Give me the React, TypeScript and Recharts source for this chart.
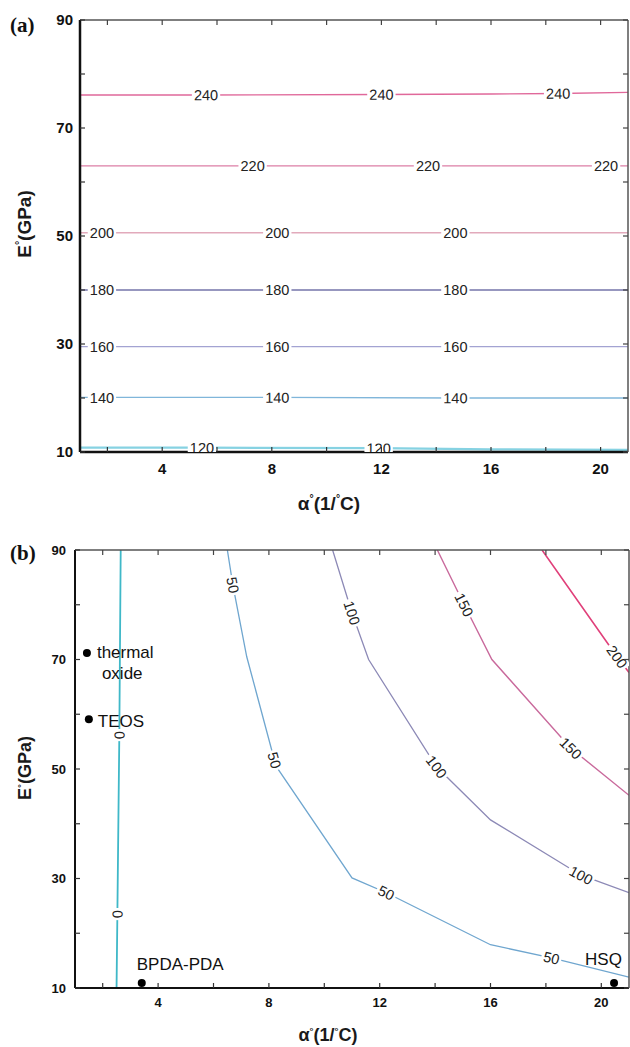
import React from "react";
import { ComposedChart, Line, Scatter, XAxis, YAxis, Label } from "recharts";

type Pt = [number, number];

const FONT = "'Liberation Sans', Arial, Helvetica, sans-serif";

// axis ticks (alpha in 1/C, E in GPa)
const alphaTicks = [2, 4, 6, 8, 10, 12, 14, 16, 18, 20];
const alphaLabels = [4, 8, 12, 16, 20];
const eTicks = [10, 20, 30, 40, 50, 60, 70, 80, 90];
const eLabels = [10, 30, 50, 70, 90];

// panel (a) contours, [alpha, E]
const a240: Pt[] = [[1, 76.1], [5.6, 76.1], [12, 76.2], [16, 76.3], [18.45, 76.4], [21, 76.6]];
const a220: Pt[] = [[1, 63], [7.3, 63], [13.7, 63], [20.2, 63], [21, 63]];
const a200: Pt[] = [[1, 50.6], [1.8, 50.6], [8.2, 50.6], [14.7, 50.6], [21, 50.6]];
const a180: Pt[] = [[1, 40], [1.8, 40], [8.2, 40], [14.7, 40], [21, 40]];
const a160: Pt[] = [[1, 29.5], [1.8, 29.5], [8.2, 29.5], [14.7, 29.5], [21, 29.5]];
const a140: Pt[] = [[1, 20.1], [1.8, 20.1], [8.2, 20.1], [14.7, 20.0], [21, 20.0]];
const a120: Pt[] = [[1, 10.8], [5.45, 10.8], [11.9, 10.7], [16, 10.5], [21, 10.4]];

// panel (b) contours
const b0: Pt[] = [[2.65, 90], [2.6, 56.2], [2.53, 23.5], [2.5, 10]];
const b50: Pt[] = [[6.5, 90], [6.7, 83.6], [7.2, 70.5], [8.2, 51.6], [8.3, 50.2], [11, 30.1], [12.24, 27.4], [16, 17.9], [18.2, 15.5], [21, 12]];
const b100: Pt[] = [[10.3, 90], [11.0, 78.5], [11.6, 70], [14.05, 50.4], [16, 40.7], [19.27, 30.6], [21, 27.4]];
const b150: Pt[] = [[14.08, 90], [15.05, 80], [16.05, 70], [18.9, 53.8], [21, 45.2]];
const b200: Pt[] = [[17.86, 90], [20.57, 70.5], [21, 67.6]];

const materials = [
  { name: "thermal oxide", a: 1.43, e: 71.2 },
  { name: "TEOS", a: 1.5, e: 59.1 },
  { name: "BPDA-PDA", a: 3.41, e: 10.9 },
  { name: "HSQ", a: 20.46, e: 10.9 },
];

const contoursA = [
  { level: 240, pts: a240, tags: [1, 2, 4], color: "#e0689a", w: 1.4 },
  { level: 220, pts: a220, tags: [1, 2, 3], color: "#dc7ea6", w: 1.3 },
  { level: 200, pts: a200, tags: [1, 2, 3], color: "#e2aabb", w: 1.3 },
  { level: 180, pts: a180, tags: [1, 2, 3], color: "#7474aa", w: 1.3 },
  { level: 160, pts: a160, tags: [1, 2, 3], color: "#a3a3d2", w: 1.3 },
  { level: 140, pts: a140, tags: [1, 2, 3], color: "#80b6da", w: 1.3 },
  { level: 120, pts: a120, tags: [1, 2], color: "#86d2e2", w: 2.2 },
];

const contoursB = [
  { level: 0, pts: b0, tags: [1, 2], color: "#3fb8c8", w: 1.8 },
  { level: 50, pts: b50, tags: [1, 3, 6, 8], color: "#6fa6cf", w: 1.3 },
  { level: 100, pts: b100, tags: [1, 3, 5], color: "#8c89b6", w: 1.3 },
  { level: 150, pts: b150, tags: [1, 3], color: "#c96a9c", w: 1.4 },
  { level: 200, pts: b200, tags: [1], color: "#e0407a", w: 1.6 },
];

const toRows = (pts: Pt[]) => pts.map(([a, e]) => ({ a, e }));

// contour value written on the line, white gap behind it
const makeTag = (level: number, pts: Pt[], tags: number[], pxA: number, pxE: number) =>
  (props: any) => {
    const { cx, cy, index } = props;
    if (!tags.includes(index) || cx == null || cy == null) return <g key={`n${level}-${index}`} />;
    const p = pts[Math.max(0, index - 1)];
    const n = pts[Math.min(pts.length - 1, index + 1)];
    let ang = (Math.atan2((p[1] - n[1]) * pxE, (n[0] - p[0]) * pxA) * 180) / Math.PI;
    if (ang > 90) ang -= 180;
    if (ang < -90) ang += 180;
    const txt = String(level);
    const fs = 14.5;
    const w = txt.length * fs * 0.56 + 4;
    return (
      <g key={`t${level}-${index}`} transform={`translate(${cx},${cy}) rotate(${ang})`}>
        <rect x={-w / 2} y={-fs * 0.45} width={w} height={fs * 0.9} fill="#fff" />
        <text textAnchor="middle" dy={fs * 0.36} fontSize={fs} fill="#222" fontFamily={FONT}>
          {txt}
        </text>
      </g>
    );
  };

const tagPlacement: Record<string, { dx: number; dy: number }[]> = {
  "thermal oxide": [{ dx: 10, dy: 5 }, { dx: 15, dy: 26 }],
  TEOS: [{ dx: 9, dy: 8 }],
  "BPDA-PDA": [{ dx: -5, dy: -13 }],
  HSQ: [{ dx: -29, dy: -18 }],
};

const MaterialDot = (props: any) => {
  const { cx, cy, payload } = props;
  const words = payload.name === "thermal oxide" ? ["thermal", "oxide"] : [payload.name];
  const place = tagPlacement[payload.name];
  return (
    <g>
      <circle cx={cx} cy={cy} r={4} fill="#000" />
      {words.map((w: string, i: number) => (
        <text key={w} x={cx + place[i].dx} y={cy + place[i].dy} fontSize={17} fill="#111" fontFamily={FONT}>
          {w}
        </text>
      ))}
    </g>
  );
};

const AlphaTitle = ({ x, y, fs }: { x: number; y: number; fs: number }) => (
  <text x={x} y={y} textAnchor="middle" fontSize={fs} fontWeight={700} fill="#1a1a1a" fontFamily={FONT}>
    α<tspan fontSize={fs * 0.55} dy={-fs * 0.4}>°</tspan>
    <tspan dy={fs * 0.4}>(1/</tspan>
    <tspan fontSize={fs * 0.55} dy={-fs * 0.4}>°</tspan>
    <tspan dy={fs * 0.4}>C)</tspan>
  </text>
);

const ETitle = ({ x, y, fs }: { x: number; y: number; fs: number }) => (
  <text x={x} y={y} textAnchor="middle" fontSize={fs} fontWeight={700} fill="#1a1a1a" fontFamily={FONT} transform={`rotate(-90 ${x} ${y})`}>
    E<tspan fontSize={fs * 0.55} dy={-fs * 0.4}>°</tspan>
    <tspan dy={fs * 0.4}>(GPa)</tspan>
  </text>
);

// inward tick marks drawn by hand, labels only on the major values
const bottomTick = (fs: number, gap: number) => (props: any) => {
  const { x, y, payload } = props;
  const v = payload.value;
  return (
    <g>
      <line x1={x} x2={x} y1={y} y2={y - 5} stroke="#333" strokeWidth={1.2} />
      {alphaLabels.includes(v) && (
        <text x={x} y={y + gap} textAnchor="middle" fontSize={fs} fontWeight={700} fill="#111" fontFamily={FONT}>
          {v}
        </text>
      )}
    </g>
  );
};

const leftTick = (fs: number, gap: number) => (props: any) => {
  const { x, y, payload } = props;
  const v = payload.value;
  return (
    <g>
      <line x1={x} x2={x + 5} y1={y} y2={y} stroke="#333" strokeWidth={1.2} />
      {eLabels.includes(v) && (
        <text x={x - gap} y={y + fs * 0.36} textAnchor="end" fontSize={fs} fontWeight={700} fill="#111" fontFamily={FONT}>
          {v}
        </text>
      )}
    </g>
  );
};

const topTick = (props: any) => {
  const { x, y } = props;
  return <line x1={x} x2={x} y1={y} y2={y + 5} stroke="#444" strokeWidth={1.2} />;
};

const rightTick = (props: any) => {
  const { x, y } = props;
  return <line x1={x} x2={x - 5} y1={y} y2={y} stroke="#444" strokeWidth={1.2} />;
};

interface PanelProps {
  top: number;
  height: number;
  yAxisW: number;
  xAxisH: number;
  right: number;
  contours: typeof contoursA;
  title: string;
  tickFs: number;
  axisW: number;
  titleY: number;
  titleFs: number;
  eTitle: { x: number; y: number };
  aTitle: { x: number; y: number };
  xGap: number;
  yGap: number;
  points?: typeof materials;
}

const Panel = (p: PanelProps) => {
  const W = 630;
  const plotW = W - p.yAxisW - p.right - 1;
  const plotH = p.height - 20 - p.xAxisH;
  const pxA = plotW / 20;
  const pxE = plotH / 80;
  return (
    <div style={{ position: "absolute", left: 0, top: p.top }}>
      <ComposedChart width={W} height={p.height} margin={{ top: 19, right: p.right, bottom: 0, left: 0 }}>
        <XAxis
          type="number"
          dataKey="a"
          domain={[1, 21]}
          allowDataOverflow
          ticks={alphaTicks}
          interval={0}
          height={p.xAxisH}
          tickSize={0}
          tickMargin={0}
          tickLine={false}
          axisLine={{ stroke: "#111", strokeWidth: p.axisW }}
          tick={bottomTick(p.tickFs, p.xGap)}
        >
          <Label content={() => <AlphaTitle x={p.aTitle.x} y={p.aTitle.y} fs={p.titleFs} />} />
        </XAxis>
        <XAxis
          xAxisId="top"
          orientation="top"
          type="number"
          dataKey="a"
          domain={[1, 21]}
          allowDataOverflow
          ticks={alphaTicks}
          interval={0}
          height={1}
          tickSize={0}
          tickMargin={0}
          tickLine={false}
          axisLine={{ stroke: "#555", strokeWidth: 1.5 }}
          tick={topTick}
        />
        <YAxis
          type="number"
          domain={[10, 90]}
          allowDataOverflow
          ticks={eTicks}
          interval={0}
          width={p.yAxisW}
          tickSize={0}
          tickMargin={0}
          tickLine={false}
          axisLine={{ stroke: "#111", strokeWidth: p.axisW }}
          tick={leftTick(p.tickFs, p.yGap)}
        >
          <Label
            content={() => (
              <g>
                <text x={10} y={p.titleY} fontSize={21} fontWeight={700} fill="#111" fontFamily="'Liberation Serif', 'Times New Roman', serif">
                  {p.title}
                </text>
                <ETitle x={p.eTitle.x} y={p.eTitle.y} fs={p.titleFs} />
              </g>
            )}
          />
        </YAxis>
        <YAxis
          yAxisId="right"
          orientation="right"
          type="number"
          domain={[10, 90]}
          allowDataOverflow
          ticks={eTicks}
          interval={0}
          width={1}
          tickSize={0}
          tickMargin={0}
          tickLine={false}
          axisLine={{ stroke: "#555", strokeWidth: 1.5 }}
          tick={rightTick}
        />
        {p.contours.map((c, i) => (
          <Line
            key={c.level}
            xAxisId={i === 0 ? "top" : 0}
            yAxisId={i === 0 ? "right" : 0}
            data={toRows(c.pts)}
            dataKey="e"
            type="linear"
            stroke={c.color}
            strokeWidth={c.w}
            dot={makeTag(c.level, c.pts, c.tags, pxA, pxE)}
            activeDot={false}
            isAnimationActive={false}
          />
        ))}
        {p.points && (
          <Scatter data={p.points} dataKey="e" shape={MaterialDot} isAnimationActive={false} />
        )}
      </ComposedChart>
    </div>
  );
};

export default function App() {
  return (
    <div style={{ position: "absolute", left: 0, top: 0, width: 630, height: 1047, background: "#fff" }}>
      <Panel
        top={0}
        height={525}
        yAxisW={80}
        xAxisH={73}
        right={1}
        contours={contoursA}
        title="(a)"
        tickFs={15}
        axisW={2.5}
        titleY={32}
        titleFs={19}
        eTitle={{ x: 31, y: 224 }}
        aTitle={{ x: 329, y: 510 }}
        xGap={22}
        yGap={7}
      />
      <Panel
        top={530}
        height={517}
        yAxisW={75}
        xAxisH={59}
        right={0}
        contours={contoursB}
        title="(b)"
        tickFs={13}
        axisW={2}
        titleY={30}
        titleFs={18}
        eTitle={{ x: 31, y: 238 }}
        aTitle={{ x: 328, y: 511 }}
        xGap={19}
        yGap={9}
        points={materials}
      />
    </div>
  );
}
